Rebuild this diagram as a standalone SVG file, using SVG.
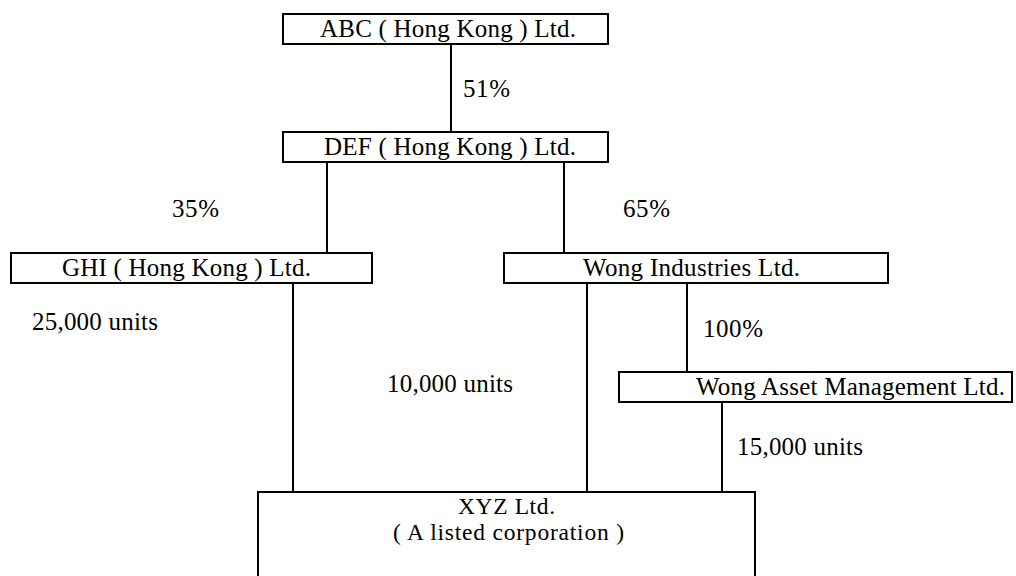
<svg xmlns="http://www.w3.org/2000/svg" width="1016" height="576" viewBox="0 0 1016 576">
<style>
  .box { fill: #ffffff; stroke: #000000; stroke-width: 2; }
  .edge { stroke: #000000; stroke-width: 2; fill: none; }
  text { font-family: "Liberation Serif", "Times New Roman", serif; font-size: 25px; fill: #000000; }
  .xyz { font-size: 23.5px; }
</style>
<rect x="0" y="0" width="1016" height="576" fill="#ffffff"/>
<g id="connectors">
  <line class="edge" x1="451" y1="44" x2="451" y2="132"/>
  <line class="edge" x1="327" y1="162" x2="327" y2="253"/>
  <line class="edge" x1="564" y1="162" x2="564" y2="253"/>
  <line class="edge" x1="293" y1="283" x2="293" y2="492"/>
  <line class="edge" x1="587" y1="283" x2="587" y2="492"/>
  <line class="edge" x1="687" y1="283" x2="687" y2="372"/>
  <line class="edge" x1="722" y1="402" x2="722" y2="492"/>
  <text x="463" y="97" textLength="47" lengthAdjust="spacing">51%</text>
  <text x="172" y="217" textLength="47" lengthAdjust="spacing">35%</text>
  <text x="623" y="217" textLength="47" lengthAdjust="spacing">65%</text>
  <text x="703" y="337" textLength="60" lengthAdjust="spacing">100%</text>
  <text x="32" y="330" textLength="126" lengthAdjust="spacing">25,000 units</text>
  <text x="387" y="392" textLength="126" lengthAdjust="spacing">10,000 units</text>
  <text x="737" y="455" textLength="126" lengthAdjust="spacing">15,000 units</text>
</g>
<g id="node-abc">
  <rect class="box" x="283" y="14" width="325" height="30"/>
  <text x="320" y="37" textLength="256" lengthAdjust="spacing">ABC ( Hong Kong ) Ltd.</text>
</g>
<g id="node-def">
  <rect class="box" x="283" y="132" width="325" height="30"/>
  <text x="324" y="155" textLength="252" lengthAdjust="spacing">DEF ( Hong Kong ) Ltd.</text>
</g>
<g id="node-ghi">
  <rect class="box" x="11" y="253" width="361" height="30"/>
  <text x="62" y="276" textLength="249" lengthAdjust="spacing">GHI ( Hong Kong ) Ltd.</text>
</g>
<g id="node-wong-industries">
  <rect class="box" x="504" y="253" width="384" height="30"/>
  <text x="583" y="276" textLength="217" lengthAdjust="spacing">Wong Industries Ltd.</text>
</g>
<g id="node-wong-asset">
  <rect class="box" x="619" y="372" width="393" height="30"/>
  <text x="696" y="395" textLength="309" lengthAdjust="spacing">Wong Asset Management Ltd.</text>
</g>
<g id="node-xyz">
  <rect class="box" x="258" y="492" width="497" height="120"/>
  <text class="xyz" x="458" y="514" textLength="97" lengthAdjust="spacing">XYZ Ltd.</text>
  <text class="xyz" x="393" y="540" textLength="231" lengthAdjust="spacing">( A listed corporation )</text>
</g>
</svg>
